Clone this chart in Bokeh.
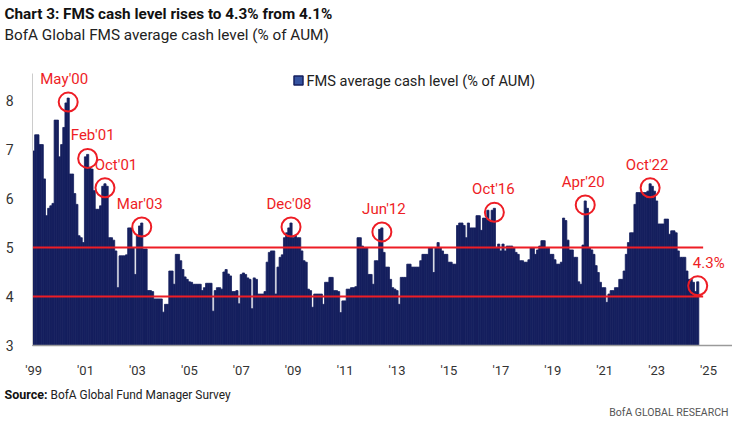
import numpy as np
from bokeh.plotting import figure
from bokeh.models import Label, FixedTicker, ColumnDataSource, Range1d
from bokeh.embed import file_html
from bokeh.resources import INLINE
from bokeh.core.properties import value

# ---------------- data (monthly FMS average cash level, % of AUM) ----------------
start_year = 1999
cash_1999 = [6.97, 7.3, 7.3, 7.1, 7.1, 6.4, 5.65, 5.8, 5.85, 5.9, 7.6, 7.6]
cash_2000 = [6.85, 7.1, 7.45, 7.95, 8.05, 6.5, 6.5, 6.1, 5.88, 5.24, 5.2, 5.1]
cash_2001 = [6.85, 6.9, 6.63, 6.6, 6.16, 5.78, 5.78, 5.85, 6.25, 6.3, 6.25, 5.2]
cash_2002 = [5.2, 5.15, 4.93, 4.18, 4.83, 4.83, 4.83, 4.85, 5.4, 5.4, 5.0, 4.45]
cash_2003 = [5.25, 5.44, 5.5, 4.97, 4.97, 4.12, 4.12, 4.1, 3.95, 3.95, 3.95, 3.95]
cash_2004 = [3.68, 3.84, 3.84, 4.52, 4.52, 4.25, 4.86, 4.86, 4.73, 4.55, 4.4, 4.35]
cash_2005 = [4.3, 4.29, 4.25, 4.25, 4.25, 4.25, 4.12, 4.18, 4.27, 4.27, 4.27, 3.7]
cash_2006 = [4.12, 4.18, 4.18, 4.15, 4.5, 4.55, 4.46, 4.42, 4.1, 4.1, 4.12, 3.85]
cash_2007 = [4.45, 4.48, 4.45, 4.38, 4.35, 3.75, 4.38, 4.35, 4.05, 4.05, 4.05, 4.1]
cash_2008 = [4.7, 4.9, 4.93, 4.93, 4.05, 4.6, 4.8, 4.85, 5.2, 5.3, 5.4, 5.5]
cash_2009 = [5.2, 5.25, 5.2, 5.2, 4.93, 4.73, 4.7, 4.15, 4.12, 3.78, 4.05, 4.05]
cash_2010 = [4.05, 4.05, 3.84, 4.29, 4.29, 4.39, 4.39, 4.12, 4.12, 4.1, 3.67, 3.91]
cash_2011 = [3.91, 4.15, 4.15, 4.18, 4.18, 4.2, 5.2, 5.2, 5.03, 5.0, 5.0, 4.45]
cash_2012 = [4.45, 4.25, 4.73, 4.73, 5.37, 5.4, 4.9, 4.6, 4.6, 4.35, 4.18, 4.15]
cash_2013 = [4.12, 3.84, 4.39, 4.39, 4.39, 4.66, 4.66, 4.6, 4.6, 4.6, 4.6, 4.73]
cash_2014 = [4.86, 4.86, 4.86, 5.0, 5.0, 4.49, 5.0, 5.1, 5.0, 4.93, 4.86, 4.86]
cash_2015 = [4.7, 4.7, 4.66, 4.66, 5.45, 5.5, 5.5, 5.45, 5.2, 5.5, 5.4, 5.4]
cash_2016 = [5.4, 5.65, 5.65, 5.35, 5.6, 5.6, 5.76, 5.55, 5.76, 5.8, 5.0, 5.07]
cash_2017 = [4.93, 5.07, 4.93, 5.03, 5.03, 5.03, 5.0, 4.9, 4.86, 4.73, 4.73, 4.7]
cash_2018 = [4.7, 4.75, 5.0, 5.0, 4.86, 4.95, 5.03, 5.14, 5.14, 5.0, 5.0, 4.86]
cash_2019 = [4.86, 4.75, 4.66, 4.66, 4.7, 5.6, 5.55, 5.15, 4.95, 4.95, 4.8, 4.8]
cash_2020 = [4.3, 4.25, 5.05, 5.95, 5.8, 5.0, 4.95, 4.86, 4.63, 4.49, 4.29, 4.18]
cash_2021 = [4.18, 3.88, 4.05, 4.12, 4.12, 4.18, 4.18, 4.35, 4.35, 4.52, 4.86, 5.1]
cash_2022 = [5.3, 5.3, 5.88, 6.12, 6.12, 6.12, 6.12, 6.12, 6.15, 6.3, 6.25, 6.15]
cash_2023 = [5.95, 5.48, 5.48, 5.48, 5.58, 5.58, 5.27, 5.34, 5.34, 5.3, 4.93, 4.8]
cash_2024 = [4.8, 4.8, 4.52, 4.35, 4.35, 4.29, 4.1, 4.3]

thresholds = [4, 5]

tick_years = [1999, 2001, 2003, 2005, 2007, 2009, 2011, 2013, 2015, 2017, 2019, 2021, 2023, 2025]
tick_labels = ["'99", "'01", "'03", "'05", "'07", "'09", "'11", "'13", "'15", "'17", "'19", "'21", "'23", "'25"]
y_ticks = [3, 4, 5, 6, 7, 8]

ann_labels = ["May'00", "Feb'01", "Oct'01", "Mar'03", "Dec'08", "Jun'12", "Oct'16", "Apr'20", "Oct'22", "4.3%"]
ann_year = [2000, 2001, 2001, 2003, 2008, 2012, 2016, 2020, 2022, 2024]
ann_month = [5, 2, 10, 3, 12, 6, 10, 4, 10, 8]

# ---------------- assemble ----------------
cash = (cash_1999 + cash_2000 + cash_2001 + cash_2002 + cash_2003 + cash_2004 + cash_2005 +
        cash_2006 + cash_2007 + cash_2008 + cash_2009 + cash_2010 + cash_2011 + cash_2012 +
        cash_2013 + cash_2014 + cash_2015 + cash_2016 + cash_2017 + cash_2018 + cash_2019 +
        cash_2020 + cash_2021 + cash_2022 + cash_2023 + cash_2024)
cash = np.array(cash, dtype=float)
idx = np.arange(len(cash))
xs = start_year + (idx + 0.5) / 12.0

NAVY = "#151f5e"
RED = "#ee1d25"
FONT = "Roboto"

# ---------------- geometry: the frame covers the whole canvas ----------------
W, H = 732, 422
OX, OY = 0, 0            # picture position of the canvas
PXX, PXY = 25.96, 49.0   # px per year, px per % point
DATA_LEFT_PAGE, Y3_PAGE = 32, 345
X_left = start_year - (DATA_LEFT_PAGE - OX) / PXX
X_right = X_left + W / PXX
Y_top = 3 + (Y3_PAGE - OY) / PXY
Y_bottom = Y_top - H / PXY


def px_x(page_x):
    return X_left + (page_x - OX) / PXX


def px_y(page_y):
    return Y_top - (page_y - OY) / PXY


p = figure(width=W, height=H, output_backend="svg", toolbar_location=None,
           x_range=Range1d(X_left, X_right), y_range=Range1d(Y_bottom, Y_top),
           min_border=0, min_border_left=0, min_border_right=0, min_border_top=0, min_border_bottom=0,
           outline_line_color=None, background_fill_color="white", border_fill_color="white")
p.xgrid.visible = False
p.ygrid.visible = False

src = ColumnDataSource(dict(x=xs, top=cash))
p.vbar(x="x", top="top", bottom=3, width=1 / 12.0, source=src,
       fill_color=NAVY, line_color=NAVY, line_width=0.8)

# reference band lines
end_x = xs[-1] + 2.5 / 12.0
p.segment(x0=[start_year] * len(thresholds), y0=thresholds, x1=[end_x] * len(thresholds), y1=thresholds,
          line_color=RED, line_width=2)

# annotations
ann_idx = [(y - start_year) * 12 + (m - 1) for y, m in zip(ann_year, ann_month)]
ann_x = xs[ann_idx]
ann_y = cash[ann_idx]
ann_dx = [-4, 5, 11, -2, -2, 2, -1, -2, -3, 11]
asrc = ColumnDataSource(dict(x=ann_x, y=ann_y, yc=ann_y - 4.0 / PXY, text=ann_labels, dx=ann_dx))
p.scatter(x="x", y="yc", source=asrc, marker="circle", size=19, fill_color=None,
          line_color=RED, line_width=2)
p.text(x="x", y="y", text="text", source=asrc, x_offset="dx", y_offset=-19,
       text_align="center", text_baseline="middle", text_color=RED,
       text_font=value(FONT), text_font_size="15px")

# axes drawn inside the canvas at fixed data locations
p.xaxis.fixed_location = 3
p.xaxis.bounds = (start_year, X_right)
p.xaxis.ticker = FixedTicker(ticks=[t + 0.5 / 12 for t in tick_years])
p.xaxis.major_label_overrides = {t + 0.5 / 12: lab for t, lab in zip(tick_years, tick_labels)}
p.xaxis.axis_line_color = "#9a9a9a"
p.xaxis.axis_line_width = 1.5
p.xaxis.major_tick_line_color = None
p.xaxis.minor_tick_line_color = None
p.xaxis.major_label_standoff = 11
p.xaxis.major_label_text_font = FONT
p.xaxis.major_label_text_font_size = "13px"
p.xaxis.major_label_text_color = "#333333"

p.yaxis.fixed_location = start_year
p.yaxis.bounds = (3, 8.55)
p.yaxis.ticker = FixedTicker(ticks=y_ticks)
p.yaxis.axis_line_color = "#cccccc"
p.yaxis.major_tick_line_color = None
p.yaxis.minor_tick_line_color = None
p.yaxis.major_label_standoff = 13
p.yaxis.major_label_text_font = FONT
p.yaxis.major_label_text_font_size = "14px"
p.yaxis.major_label_text_color = "#333333"

# legend (square + text)
p.scatter(x=[px_x(298)], y=[px_y(80)], marker="square", size=9,
          fill_color="#3553a0", line_color=NAVY, line_width=1.5)
p.add_layout(Label(x=px_x(306), y=px_y(80), text="FMS average cash level (% of AUM)",
                   text_font=FONT, text_font_size="14.6px", text_color="#222222",
                   text_baseline="middle", text_align="left"))

# titles and footers
p.add_layout(Label(x=px_x(4), y=px_y(13), text="Chart 3: FMS cash level rises to 4.3% from 4.1%",
                   text_font=FONT, text_font_size="15.3px", text_font_style="bold",
                   text_color="#111111", text_baseline="middle", text_align="left"))
p.add_layout(Label(x=px_x(4), y=px_y(34), text="BofA Global FMS average cash level (% of AUM)",
                   text_font=FONT, text_font_size="15.3px", text_color="#222222",
                   text_baseline="middle", text_align="left"))
p.add_layout(Label(x=px_x(4), y=px_y(394), text="Source:",
                   text_font=FONT, text_font_size="12.5px", text_font_style="bold",
                   text_color="#111111", text_baseline="middle", text_align="left"))
p.add_layout(Label(x=px_x(50), y=px_y(394), text="BofA Global Fund Manager Survey",
                   text_font=FONT, text_font_size="11.9px",
                   text_color="#222222", text_baseline="middle", text_align="left"))
p.add_layout(Label(x=px_x(728), y=px_y(412), text="BofA GLOBAL RESEARCH",
                   text_font=FONT, text_font_size="10.5px",
                   text_color="#555555", text_baseline="middle", text_align="right"))

open("out.html", "w").write(file_html(p, INLINE))
